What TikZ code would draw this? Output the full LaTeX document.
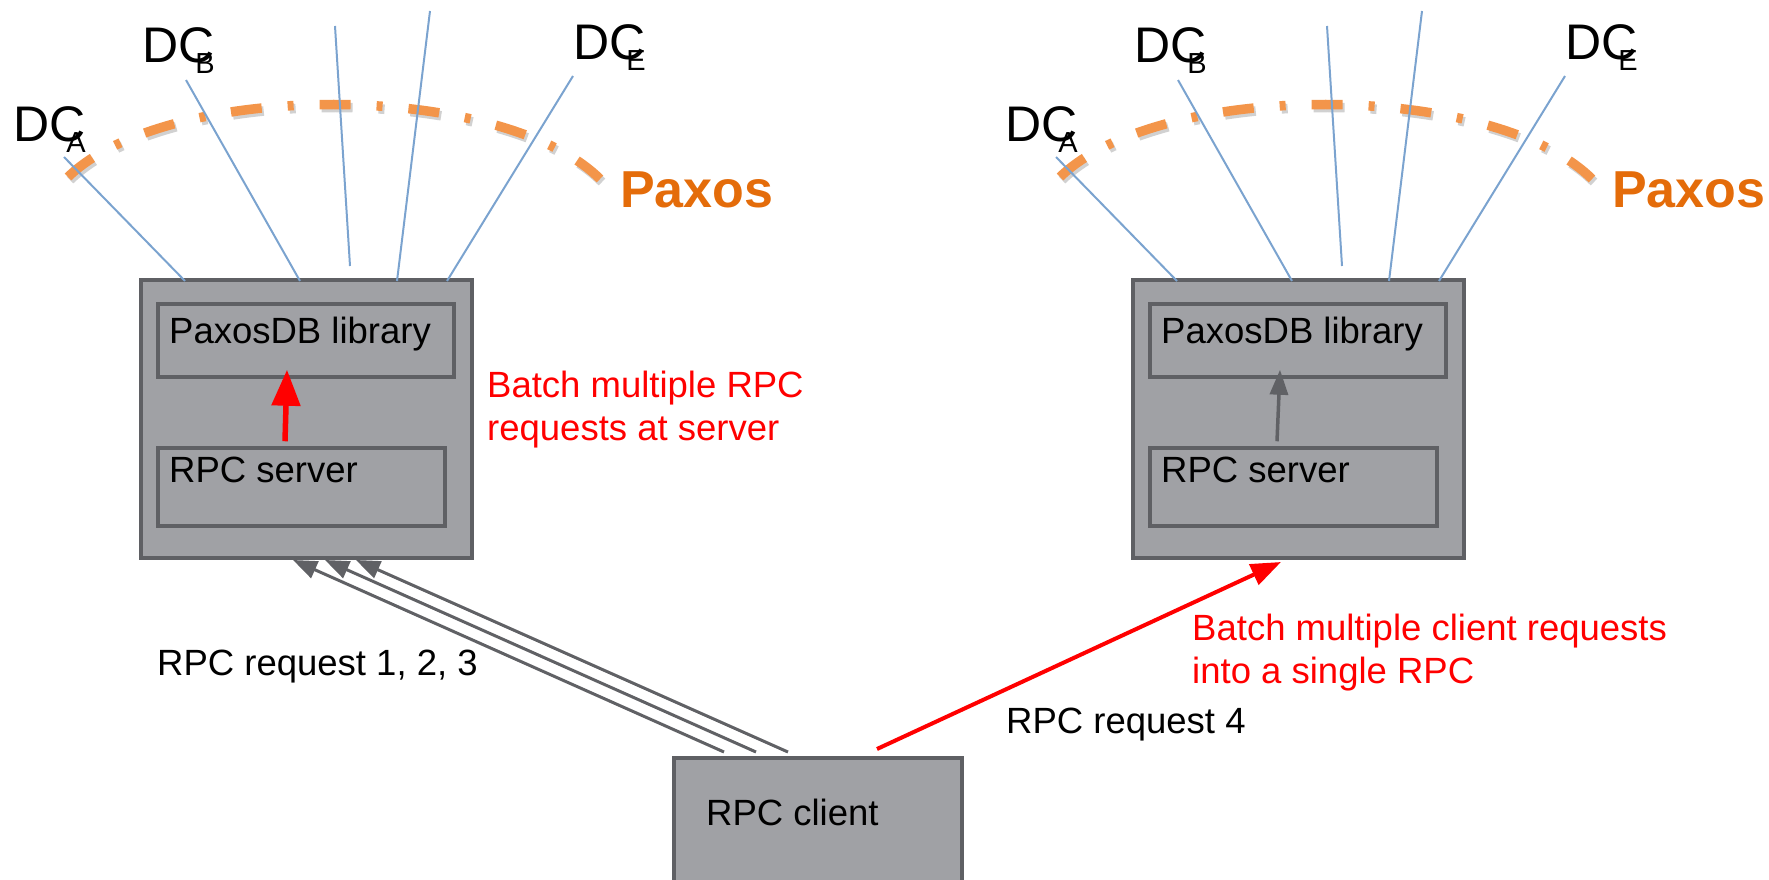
\documentclass[tikz,border=0pt]{standalone}
\usepackage{fontspec}
\setmainfont{Liberation Sans}
\usetikzlibrary{arrows.meta,calc}

\definecolor{boxfill}{HTML}{A0A1A5}
\definecolor{boxline}{HTML}{5F6064}
\definecolor{linkblue}{HTML}{7BA3CF}
\definecolor{paxosarc}{HTML}{F3954A}
\definecolor{paxostxt}{HTML}{E46C0A}
\definecolor{arrowgray}{HTML}{606165}

% subscript letter tucked under the C of "DC"
\newcommand\dcsub[1]{\kern-19pt\raisebox{-10.5pt}{\fontsize{29}{29}\selectfont #1}}

\begin{document}
\begin{tikzpicture}[x=1pt,y=-1pt,
  outerbox/.style={draw=boxline, line width=4pt, fill=boxfill, inner sep=0pt},
  innerbox/.style={draw=boxline, line width=3.5pt, fill=boxfill, inner sep=0pt},
  lbl/.style={inner sep=0pt, anchor=base west, font=\fontsize{36.5}{43}\selectfont},
  note/.style={lbl, text=red, align=left},
  dclbl/.style={inner sep=0pt, anchor=base west, font=\fontsize{50}{50}\selectfont},
  paxoslbl/.style={inner sep=0pt, anchor=base west, text=paxostxt,
    font=\fontsize{52}{52}\selectfont\bfseries},
  link/.style={draw=linkblue, line width=2pt},
  ring/.style={draw=paxosarc, line width=9.5pt,
    dash pattern=on 31pt off 26pt on 6pt off 26pt},
  ringshadow/.style={ring, draw=black, draw opacity=0.18},
  req/.style={draw=arrowgray, line width=3pt,
    -{Triangle[length=24pt,width=18pt]}},
  upcall/.style={draw=arrowgray, line width=3.5pt,
    -{Triangle[length=25pt,width=18pt]}},
  batchsrv/.style={draw=red, line width=5.5pt,
    -{Triangle[length=36pt,width=28pt]}},
  batchcli/.style={draw=red, line width=4pt,
    -{Triangle[length=30pt,width=22pt]}},
]
\useasboundingbox (0,0) rectangle (1769,880);

% two replicas, each a server box linked to five datacenters
\foreach \s/\dx in {L/0,R/992}{
\begin{scope}[xshift=\dx pt]
  % Paxos ring across the datacenters
  \begin{scope}[shift={(2,3)}]
    \path[ringshadow] (68,177) .. controls (168,80) and (500,80) .. (600,179);
  \end{scope}
  \path[ring] (68,177) .. controls (168,80) and (500,80) .. (600,179);
  \node[paxoslbl] (paxos\s) at (620,207) {Paxos};

  \node[dclbl] (dcA\s) at (13,142) {DC\dcsub{A}};
  \node[dclbl] (dcB\s) at (142,63) {DC\dcsub{B}};
  \node[dclbl] (dcE\s) at (573,60) {DC\dcsub{E}};

  % server box with its two layers
  \node[outerbox, minimum width=331pt, minimum height=278pt] (srv\s) at (306.5,419) {};
  \node[innerbox, minimum width=296pt, minimum height=73pt] (lib\s) at (306,340.5) {};
  \node[innerbox, minimum width=287pt, minimum height=78pt] (rpc\s) at (301.5,487) {};
  \node[lbl] (libtxt\s) at (169,343) {PaxosDB library};
  \node[lbl] (rpctxt\s) at (169,482) {RPC server};

  % links to the datacenters
  \coordinate (endA\s) at (64,157);
  \coordinate (endB\s) at (186,80);
  \coordinate (endC\s) at (335,26);
  \coordinate (endD\s) at (430,11);
  \coordinate (endE\s) at (573,76);
  \coordinate (footC\s) at ($(srv\s.north west)+(211,-12)$);
  \draw[link] (endA\s) -- ($(srv\s.north west)+(46,3)$);
  \draw[link] (endB\s) -- ($(srv\s.north west)+(161,3)$);
  \draw[link] (endC\s) -- (footC\s);
  \draw[link] (endD\s) -- ($(srv\s.north west)+(258,3)$);
  \draw[link] (endE\s) -- ($(srv\s.north west)+(308,3)$);
\end{scope}
}

% calls from the RPC server into the library
\draw[batchsrv] ([xshift=-16.5pt,yshift=5pt]rpcL.north) -- ([xshift=-19pt,yshift=9pt]libL.south);
\draw[upcall] ([xshift=-16.5pt,yshift=5pt]rpcR.north) -- ([xshift=-18pt,yshift=9pt]libR.south);
\node[note] (noteSrv) at (487,440) {Batch multiple RPC\\requests at server};

% client
\node[outerbox, minimum width=288pt, minimum height=150pt] (cli) at (818,833) {};
\node[lbl] (clitxt) at (706,825) {RPC client};

% separate requests to the left server
\foreach \a/\b in {-94/-13.5,-62/18.5,-30/49.5}
  \draw[req] ([xshift=\a pt,yshift=4pt]cli.north) -- ([xshift=\b pt]srvL.south);
\node[lbl] (req123) at (157,675) {RPC request 1, 2, 3};

% one batched request to the right server
\draw[batchcli] ([xshift=59pt,yshift=7pt]cli.north) -- ([xshift=-17.5pt,yshift=-2pt]srvR.south);
\node[lbl] (req4) at (1006,733) {RPC request 4};
\node[note] (noteCli) at (1192,683) {Batch multiple client requests\\into a single RPC};
\end{tikzpicture}
\end{document}
